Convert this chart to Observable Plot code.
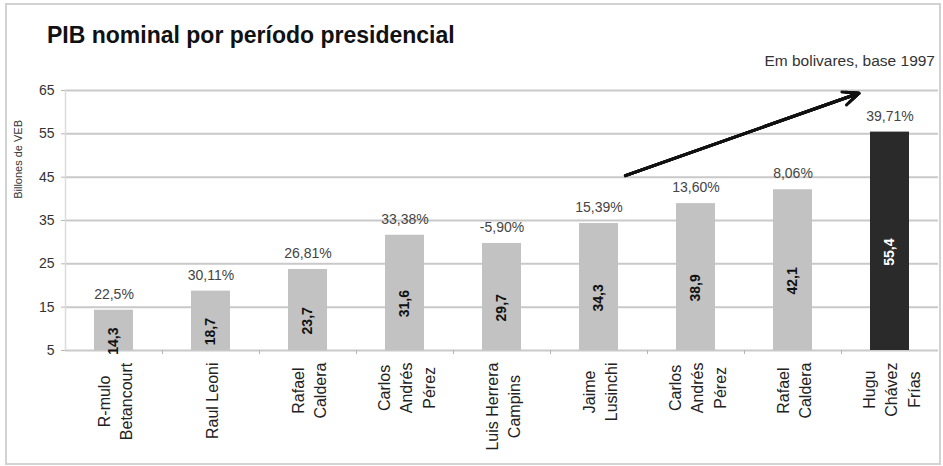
<!DOCTYPE html>
<html><head><meta charset="utf-8">
<script src="https://cdn.jsdelivr.net/npm/d3@7"></script>
<script src="https://cdn.jsdelivr.net/npm/@observablehq/plot@0.6"></script>
<style>
body{margin:0;background:#fff;font-family:"Liberation Sans",Arial,sans-serif;}
#wrap{position:relative;width:943px;height:466px;overflow:hidden;background:#fff;}
#frame{position:absolute;left:5px;top:3px;width:936px;height:462px;border:2px solid #d2d2d2;box-sizing:border-box;}
#title{position:absolute;left:47px;top:24px;font-size:23px;font-weight:bold;color:#111;line-height:1;white-space:nowrap;}
#sub{position:absolute;right:8px;top:53px;font-size:15.5px;color:#333;line-height:1;white-space:nowrap;}
#chart{position:absolute;left:0;top:70px;}
</style></head><body>
<div id="wrap">
  <div id="frame"></div>
  <div id="title">PIB nominal por período presidencial</div>
  <div id="sub">Em bolivares, base 1997</div>
  <div id="chart"></div>
</div>
<script>
// ---- data ----
const presidentIds = ["p1","p2","p3","p4","p5","p6","p7","p8","p9"];
const presidentLabels = ["R-mulo\nBetancourt","Raul Leoni","Rafael\nCaldera","Carlos\nAndrés\nPérez","Luis Herrera\nCampins","Jaime\nLusinchi","Carlos\nAndrés\nPérez","Rafael\nCaldera","Hugu\nChávez\nFrías"];
const gdpValues = [14.3, 18.7, 23.7, 31.6, 29.7, 34.3, 38.9, 42.1, 55.4];
const growthLabels = ["22,5%","30,11%","26,81%","33,38%","-5,90%","15,39%","13,60%","8,06%","39,71%"];
const highlighted = [false,false,false,false,false,false,false,false,true];
const yTicks = [5,15,25,35,45,55,65];
const yTitle = [{text:"Billones de VEB", at:40}];
const trendArrow = [{from:"p6", y1:43.2, to:"p9", y2:66.9}];

// ---- build ----
const rows = presidentIds.map((id,i)=>({id, label:presidentLabels[i], value:gdpValues[i], growth:growthLabels[i], hl:highlighted[i]}));
const labelOf = Object.fromEntries(rows.map(r=>[r.id,r.label]));
const fmt = v => String(v).replace(".", ",");

const W = 943, H = 396, mL = 65, mR = 5, mT = 20, mB = 116;
const step = (W - mL - mR) / presidentIds.length;

// arrow drawn with nested heads so the head looks filled
const arrowOpts = hl => ({x1: "from", y1: "y1", x2: "to", y2: "y2", stroke: "#111", strokeWidth: 3, headLength: hl, headAngle: 48, insetStart: 28, insetEnd: 33});

const plot = Plot.plot({
  width: W, height: H,
  marginLeft: mL, marginRight: mR, marginTop: mT, marginBottom: mB,
  style: {fontFamily: "'Liberation Sans', Arial, sans-serif", background: "transparent"},
  x: {domain: presidentIds, paddingInner: 0.6, paddingOuter: 0.3, label: null},
  y: {domain: [5, 65], label: null},
  marks: [
    Plot.ruleY(yTicks, {stroke: "#c9c9c9", strokeWidth: 2}),
    Plot.ruleX([presidentIds[0]], {dx: -step/2, stroke: "#dcdcdc", strokeWidth: 1.5}),
    Plot.axisY({ticks: yTicks, tickSize: 4, tickPadding: 7, fontSize: 14, stroke: "#b5b5b5", fill: "#333", label: null}),
    Plot.axisX({ticks: presidentIds.slice(0, 8), tickFormat: () => "", tickSize: 4, dx: step/2, stroke: "#b5b5b5"}),
    Plot.axisX({tickFormat: d => labelOf[d], tickRotate: -90, tickSize: 0, tickPadding: 12, fontSize: 16, lineHeight: 1.4, fill: "#222"}),
    Plot.text(yTitle, {frameAnchor: "left", y: "at", text: "text", rotate: -90, dx: -47, fontSize: 11, fill: "#333"}),
    Plot.barY(rows, {x: "id", y1: 5, y2: "value", fill: d => d.hl ? "#2a2a2a" : "#c2c2c2"}),
    Plot.text(rows, {x: "id", y: d => d.value / 2, text: d => fmt(d.value), rotate: -90, fontWeight: "bold", fontSize: 14, fill: d => d.hl ? "#ffffff" : "#111111"}),
    Plot.text(rows, {x: "id", y: "value", text: "growth", dy: -16, fontSize: 14, fill: "#444"}),
    Plot.arrow(trendArrow, arrowOpts(8.5)),
    Plot.arrow(trendArrow, arrowOpts(6.5)),
    Plot.arrow(trendArrow, arrowOpts(4.5)),
    Plot.arrow(trendArrow, arrowOpts(2.5))
  ]
});
document.getElementById("chart").append(plot);

// center the lines of each rotated category label, block starting just under the axis
const flatLabels = new Set(presidentLabels.map(s => s.replace(/\n/g, "")));
plot.querySelectorAll("text").forEach(t => {
  if (!flatLabels.has(t.textContent)) return;
  const w = t.getBBox().width;
  if (!w) return;
  t.setAttribute("text-anchor", "middle");
  t.style.textAnchor = "middle";
  const spans = t.querySelectorAll("tspan");
  if (spans.length) spans.forEach(s => s.setAttribute("x", String(-w/2)));
  else t.setAttribute("x", String(-w/2));
});
</script>
</body></html>
